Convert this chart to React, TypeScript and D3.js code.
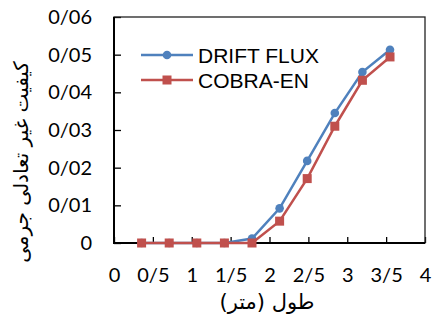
import { useEffect, useRef } from "react";
import * as d3 from "d3";

// length along channel (m)
const lengths = [0.355, 0.71, 1.065, 1.42, 1.775, 2.13, 2.485, 2.84, 3.195, 3.55];
const driftFlux = [0, 0, 0, 0, 0.0012, 0.0092, 0.0218, 0.0345, 0.0454, 0.0513];
const cobraEn = [0, 0, 0, 0, 0, 0.0058, 0.0171, 0.031, 0.0432, 0.0494];
const xTicks = [0, 0.5, 1, 1.5, 2, 2.5, 3, 3.5, 4];
const yTicks = [0, 0.01, 0.02, 0.03, 0.04, 0.05, 0.06];

const series = [
  { name: "DRIFT FLUX", values: driftFlux, color: "#4F81BD", marker: "circle" },
  { name: "COBRA-EN", values: cobraEn, color: "#C0504D", marker: "square" },
];

const persianNum = (d: number, digits: number) =>
  d === 0 ? "0" : d3.format(`.${digits}f`)(d).replace(".", "/");

const App = () => {
  const ref = useRef<SVGSVGElement>(null);

  useEffect(() => {
    if (!ref.current) return;
    const svg = d3.select(ref.current);
    svg.selectAll("*").remove();

    const margin = { top: 17, right: 7, bottom: 77, left: 114 };
    const width = 432 - margin.left - margin.right;
    const height = 320 - margin.top - margin.bottom;

    const x = d3.scaleLinear().domain([0, 4]).range([0, width]);
    const y = d3.scaleLinear().domain([0, 0.06]).range([height, 0]);

    const g = svg
      .append("g")
      .attr("transform", `translate(${margin.left}, ${margin.top})`);

    // axes with inside ticks
    const xAxis = g
      .append("g")
      .attr("transform", `translate(0, ${height})`)
      .call(
        d3
          .axisBottom(x)
          .tickValues(xTicks)
          .tickSizeInner(-6)
          .tickSizeOuter(0)
          .tickPadding(25)
          .tickFormat((d) => persianNum(d as number, 1).replace(/\/0$/, ""))
      );
    const yAxis = g
      .append("g")
      .call(
        d3
          .axisLeft(y)
          .tickValues(yTicks)
          .tickSizeInner(-7)
          .tickSizeOuter(0)
          .tickPadding(22)
          .tickFormat((d) => persianNum(d as number, 2))
      );
    [xAxis, yAxis].forEach((a) => {
      a.select(".domain").remove();
      a.selectAll("line").attr("stroke", "#000").attr("stroke-width", 1.3);
      a.selectAll("text")
        .attr("fill", "#000")
        .style("font-family", "Lato, 'Open Sans', sans-serif")
        .style("font-size", "20px");
    });

    // frame
    g.append("rect")
      .attr("width", width)
      .attr("height", height)
      .attr("fill", "none")
      .attr("stroke", "#222")
      .attr("stroke-width", 1.3);
    g.append("path")
      .attr("d", `M0,0V${height}H${width}`)
      .attr("fill", "none")
      .attr("stroke", "#000")
      .attr("stroke-width", 2);

    const line = d3
      .line<number>()
      .x((_, i) => x(lengths[i]))
      .y((d) => y(d));

    series.forEach((s) => {
      g.append("path")
        .datum(s.values)
        .attr("d", line)
        .attr("fill", "none")
        .attr("stroke", s.color)
        .attr("stroke-width", 2.5);
      const pts = g.append("g").attr("fill", s.color);
      s.values.forEach((v, i) => {
        if (s.marker === "circle") {
          pts.append("circle").attr("cx", x(lengths[i])).attr("cy", y(v)).attr("r", 4.3);
        } else {
          pts
            .append("rect")
            .attr("x", x(lengths[i]) - 4.5)
            .attr("y", y(v) - 4.5)
            .attr("width", 9)
            .attr("height", 9);
        }
      });
    });

    // legend
    const legend = svg.append("g").attr("transform", "translate(141, 55)");
    series.forEach((s, i) => {
      const row = legend.append("g").attr("transform", `translate(0, ${i * 25})`);
      row
        .append("line")
        .attr("x1", 0)
        .attr("x2", 52)
        .attr("stroke", s.color)
        .attr("stroke-width", 2.5);
      if (s.marker === "circle") {
        row.append("circle").attr("cx", 26).attr("r", 4.3).attr("fill", s.color);
      } else {
        row
          .append("rect")
          .attr("x", 21.5)
          .attr("y", -4.5)
          .attr("width", 9)
          .attr("height", 9)
          .attr("fill", s.color);
      }
      row
        .append("text")
        .attr("x", 57)
        .attr("y", 8)
        .style("font-family", "'Liberation Sans', Arial, sans-serif")
        .style("font-size", "21px")
        .text(s.name);
    });

    // axis titles
    svg
      .append("text")
      .attr("x", 267)
      .attr("y", 309)
      .attr("text-anchor", "middle")
      .style("font-family", "'DejaVu Sans', sans-serif")
      .style("font-size", "21px")
      .text("طول (متر)");
    svg
      .append("text")
      .attr("transform", "translate(28, 162) rotate(-90)")
      .attr("text-anchor", "middle")
      .style("font-family", "'DejaVu Sans', sans-serif")
      .style("font-size", "20px")
      .text("کیفیت غیر تعادلی جرمی");
  }, []);

  return (
    <svg
      ref={ref}
      width={432}
      height={320}
      style={{ position: "absolute", left: 0, top: 0, background: "#fff" }}
    />
  );
};

export default App;
